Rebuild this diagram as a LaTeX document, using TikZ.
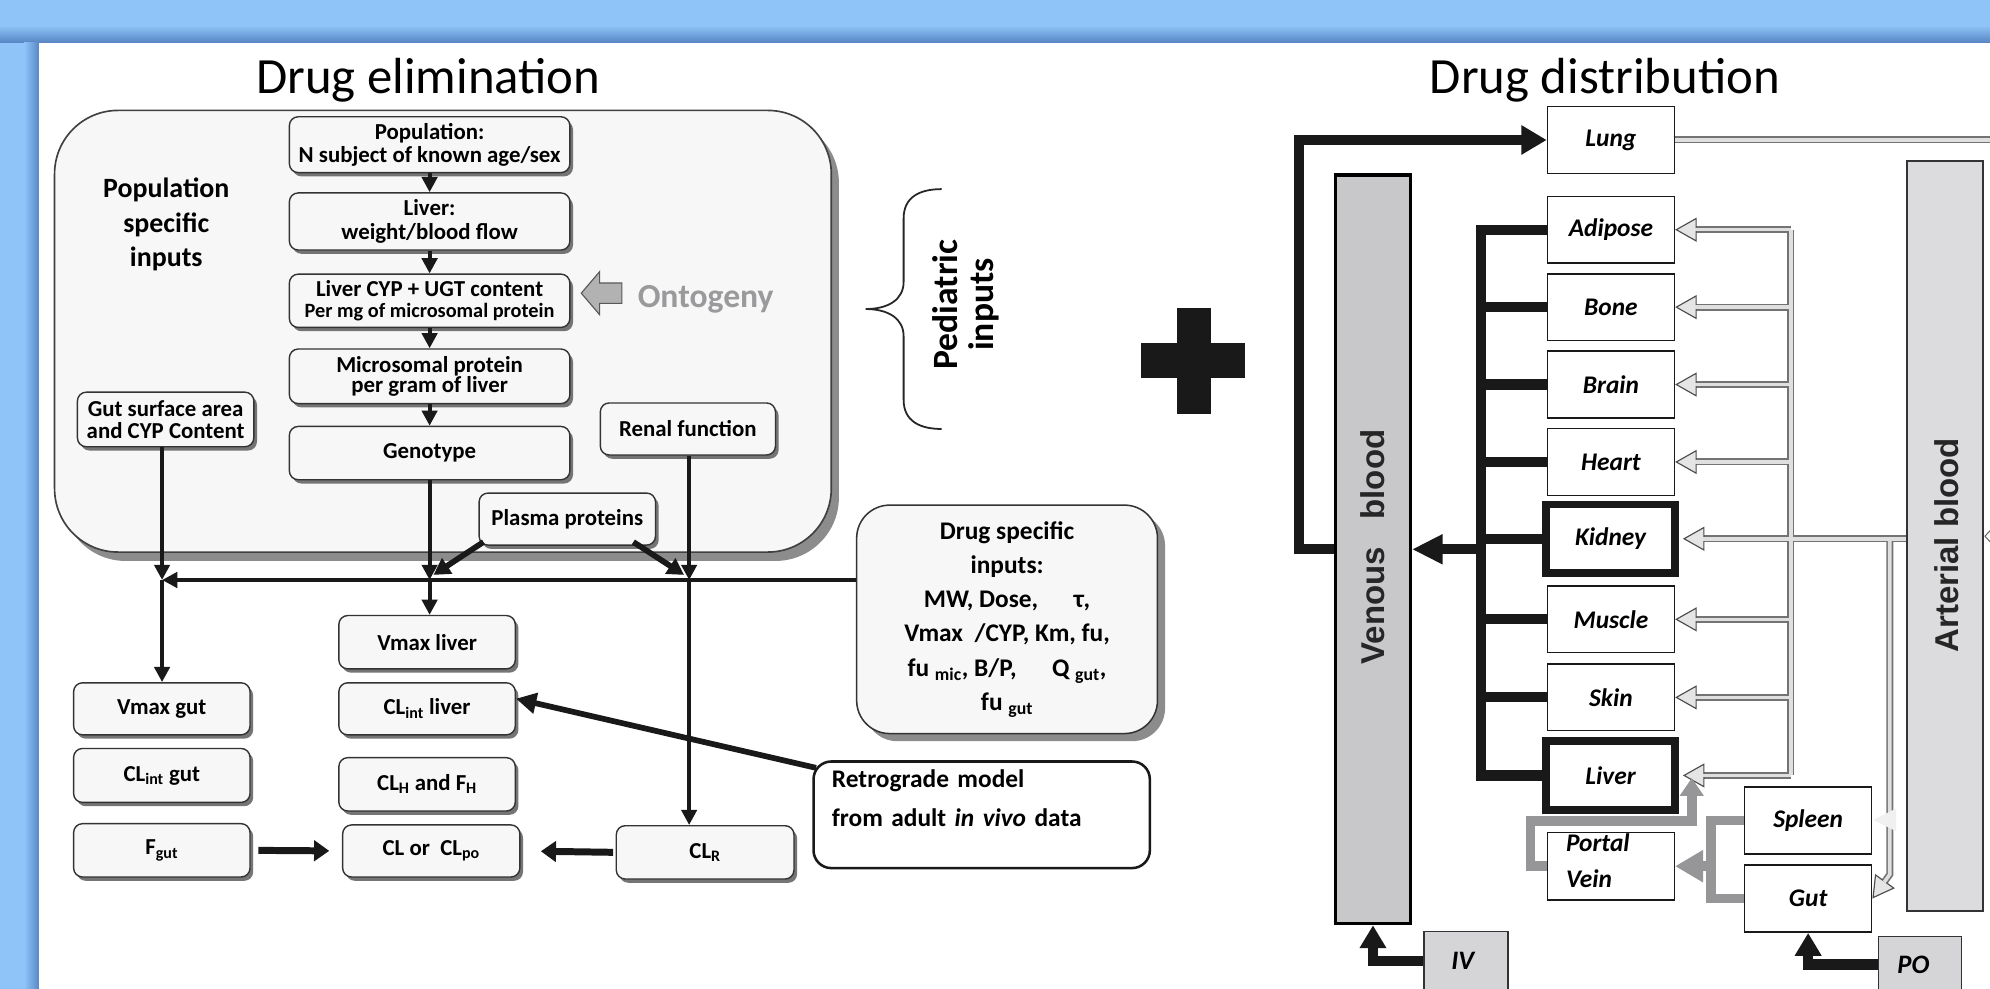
\documentclass[tikz,border=0pt]{standalone}
\usepackage{fontspec}
\setmainfont{Carlito}
\newfontfamily\arialf{Liberation Sans}
\usetikzlibrary{arrows.meta,shadows}
\definecolor{bluebg}{RGB}{142,196,248}
\definecolor{blueshade}{RGB}{88,134,196}
\definecolor{boxfill}{RGB}{247,247,247}
\definecolor{venfill}{RGB}{200,200,203}
\definecolor{artfill}{RGB}{220,220,222}
\definecolor{routefill}{RGB}{213,213,215}
\definecolor{portgray}{RGB}{150,150,152}
\definecolor{ontogray}{RGB}{154,154,156}
\tikzset{
 rbox/.style={draw=black!80, fill=boxfill, rounded corners=7pt, line width=1.1pt,
   drop shadow={shadow xshift=2.5pt, shadow yshift=-3pt, fill=black!60, opacity=0.9},
   font=\fontsize{18}{17}\selectfont\bfseries, align=center, inner sep=0pt},
 bigpanel/.style={draw=black!75, fill=boxfill, rounded corners=50pt, line width=1.3pt,
   drop shadow={shadow xshift=6pt, shadow yshift=-7pt, fill=black!45, opacity=1}, inner sep=0pt},
 dbox/.style={draw=black!80, fill=boxfill, rounded corners=26pt, line width=1.2pt,
   drop shadow={shadow xshift=6pt, shadow yshift=-6pt, fill=black!45, opacity=1}, inner sep=0pt, align=center},
 retrobox/.style={draw=black!90, fill=white, rounded corners=14pt, line width=2pt, inner sep=0pt},
 arr/.style={draw=black!90, line width=3.2pt, -{Triangle[length=12pt,width=12pt]}},
 parr/.style={draw=black!90, line width=4.5pt, -{Triangle[length=13pt,width=14pt]}},
 barr/.style={draw=black!90, line width=5.5pt, -{Triangle[length=12pt,width=16pt]}},
 rarr/.style={draw=black!90, line width=4.5pt, -{Triangle[length=16pt,width=16pt]}},
 hline/.style={draw=black!90, line width=3.8pt, -{Triangle[length=12pt,width=12pt]}},
 obox/.style={draw=black!90, fill=white, line width=1.2pt, minimum width=100pt, minimum height=52.5pt,
   inner sep=0pt, font=\fontsize{20}{22}\selectfont\bfseries\itshape},
 okbox/.style={obox, line width=6pt, minimum width=102pt, minimum height=54pt},
 routebox/.style={draw=black!80, line width=1.2pt, fill=routefill, inner sep=0pt},
 ven/.style={draw=black!90, line width=8pt},
 venarr/.style={ven, -{Triangle[length=20pt,width=22pt]}},
 venarrb/.style={ven, -{Triangle[length=24pt,width=22pt]}},
 venarrc/.style={ven, -{Triangle[length=18pt,width=20pt]}},
 artout/.style={draw=black!55, line width=5.5pt},
 artin/.style={draw=gray!25, line width=2.8pt},
 arttip/.style={-{Triangle[length=17pt,width=19pt,color=black!70,fill=gray!20,line width=0.9pt]}},
 portline/.style={draw=portgray, line width=7.5pt},
 portarr/.style={portline, -{Triangle[length=22pt,width=24pt]}},
 portarrb/.style={portline, -{Triangle[length=14pt,width=18pt]}},
 bloodlab/.style={rotate=90, font=\arialf\bfseries\fontsize{26}{28}\selectfont, text=black!85},
}
\begin{document}
\begin{tikzpicture}[x=1pt,y=-1pt]
\useasboundingbox (0,0) rectangle (1568,779);
% background
\fill[bluebg] (0,0) rectangle (1568,779);
\shade[top color=bluebg, bottom color=blueshade] (0,20) rectangle (1568,33.5);
\shade[left color=bluebg, right color=blueshade] (19,33.5) rectangle (31,779);
\fill[white] (31,33.5) rectangle (1568,779);

% titles
\node[font=\fontsize{40}{44}\selectfont] (t1) at (337.5,63) {Drug elimination};
\node[font=\fontsize{40}{44}\selectfont] (t2) at (1264.5,63) {Drug distribution};

% ===== left part =====
\node[bigpanel, minimum width=612pt, minimum height=348pt] (panel) at (349,261) {};
\node[font=\fontsize{22}{27}\selectfont\bfseries, align=center] (poplab) at (131,177) {Population\\specific\\inputs};

\node[rbox, minimum width=221pt, minimum height=44pt, font=\fontsize{18}{18.5}\selectfont\bfseries] (pop) at (338.5,114) {Population:\\N subject of known age/sex};
\node[rbox, minimum width=221pt, minimum height=45pt, font=\fontsize{18}{18.5}\selectfont\bfseries] (liv) at (338.5,174.5) {Liver:\\weight/blood flow};
\node[rbox, minimum width=221pt, minimum height=42pt, font=\fontsize{18}{16}\selectfont\bfseries] (cyp) at (338.5,237) {Liver CYP + UGT content\\{\fontsize{16}{16}\selectfont Per mg of microsomal protein}};
\node[rbox, minimum width=221pt, minimum height=43pt, font=\fontsize{18}{15.5}\selectfont\bfseries] (mic) at (338.5,296.5) {Microsomal protein\\per gram of liver};
\node[rbox, minimum width=221pt, minimum height=42pt] (geno) at (338.5,357) {Genotype};

\node[rbox, minimum width=139pt, minimum height=43pt, font=\fontsize{18}{17.5}\selectfont\bfseries] (gutsa) at (130.5,330.5) {Gut surface area\\and CYP Content};
\node[rbox, minimum width=138pt, minimum height=41pt] (renal) at (542,338) {Renal function};
\node[rbox, minimum width=139pt, minimum height=41pt] (plasma) at (447,409) {Plasma proteins};

% ontogeny
\filldraw[fill=gray!60, draw=black!65, line width=0.9pt] (458,231) -- (472.5,214) -- (472.5,223) -- (490,223) -- (490,239) -- (472.5,239) -- (472.5,248) -- cycle;
\node[font=\fontsize{26.5}{28}\selectfont\bfseries, text=ontogray] (onto) at (556,236) {Ontogeny};

% lower boxes
\node[rbox, minimum width=139pt, minimum height=42pt] (vmaxl) at (336.5,506) {Vmax liver};
\node[rbox, minimum width=139pt, minimum height=41pt] (clintl) at (336.5,558.5) {CL\textsubscript{int} liver};
\node[rbox, minimum width=139pt, minimum height=42pt] (clh) at (336.5,618) {CL\textsubscript{H} and F\textsubscript{H}};
\node[rbox, minimum width=139.6pt, minimum height=41pt] (cl) at (339.8,670.5) {CL or\ \ CL\textsubscript{po}};
\node[rbox, minimum width=139pt, minimum height=41pt] (vmaxg) at (127.5,558.5) {Vmax gut};
\node[rbox, minimum width=139pt, minimum height=42.5pt] (clintg) at (127.5,611) {CL\textsubscript{int} gut};
\node[rbox, minimum width=139pt, minimum height=42pt] (fgut) at (127.5,670) {F\textsubscript{gut}};
\node[rbox, minimum width=140pt, minimum height=42pt] (clr) at (555.6,671.6) {CL\textsubscript{R}};

% drug specific inputs
\node[dbox, minimum width=237pt, minimum height=180pt, font=\fontsize{20}{27}\selectfont\bfseries] (drug) at (793.5,488) {Drug specific\\inputs:\\MW, Dose,\hspace{28pt}τ,\\Vmax\ \ /CYP, Km, fu,\\fu \textsubscript{mic}, B/P,\hspace{28pt}Q \textsubscript{gut},\\fu \textsubscript{gut}};

% retrograde
\node[retrobox, minimum width=265pt, minimum height=84pt] (retro) at (773.5,642) {};
\node[font=\fontsize{20}{30.5}\selectfont\bfseries, text width=236pt, align=left] (retrotext) at (773.5,629) {Retrograde model\\from adult \textit{in vivo} data};

% chain arrows
\draw[arr] (pop) -- (liv);
\draw[arr] (liv) -- (cyp);
\draw[arr] (cyp) -- (mic);
\draw[arr] (mic) -- (geno);

\coordinate (jg) at (127.7,457);
\coordinate (jl) at (338.5,457);
\coordinate (jr) at (543,457);
\draw[hline] (drug.west |- jg) -- (jg);
\draw[arr] (gutsa.south -| jg) -- (jg);
\draw[arr] (jg) -- (vmaxg.north -| jg);
\draw[arr] (geno.south) -- (jl);
\draw[arr] (jl) -- (vmaxl.north -| jl);
\draw[arr] (renal.south -| jr) -- (jr);
\draw[arr] (jr) -- (clr.north -| jr);
\draw[parr] ([xshift=4pt,yshift=3pt]plasma.south west) -- ([xshift=3pt,yshift=4pt]jl);
\draw[parr] ([xshift=-18pt,yshift=3pt]plasma.south east) -- ([xshift=-4pt,yshift=4pt]jr);
\draw[barr, shorten <=6pt, shorten >=10pt] (fgut.east) -- (cl.west);
\draw[barr, shorten <=2pt, shorten >=16pt] (clr.west) -- (cl.east);
\draw[rarr] ([xshift=3pt,yshift=-6pt]retro.north west) -- ([yshift=8pt]clintl.east);

% brace and pediatric inputs
\draw[line width=1.4pt, black!85] (742,149) .. controls (725,149) and (712,155) .. (712,172) -- (712,222) .. controls (712,236) and (700,243.5) .. (682,243.5) .. controls (700,243.5) and (712,251) .. (712,265) -- (712,315) .. controls (712,332) and (725,338) .. (742,338);
\node[rotate=90, font=\fontsize{28}{29}\selectfont\bfseries, align=center] (ped) at (761,240) {Pediatric\\inputs};

% plus sign
\fill[black!90] (899,270) rectangle (981,298);
\fill[black!90] (927,243) rectangle (954,326);

% ===== right part =====
\node[draw=black, line width=2.6pt, fill=venfill, minimum width=59pt, minimum height=590pt, inner sep=0pt] (venous) at (1081.8,432.8) {};
\node[bloodlab] (venlab) at (1081.8,431) {Venous\ \ \ blood};
\node[draw=black!80, line width=1.4pt, fill=artfill, minimum width=60pt, minimum height=591pt, inner sep=0pt] (art) at (1532.3,422.5) {};
\node[bloodlab] (artlab) at (1534,429.6) {Arterial blood};

\node[obox] (lung) at (1269.3,110.3) {Lung};
\node[obox] (adipose) at (1269.3,181) {Adipose};
\node[obox] (bone) at (1269.3,242) {Bone};
\node[obox] (brain) at (1269.3,303) {Brain};
\node[obox] (heart) at (1269.3,364) {Heart};
\node[okbox] (kidney) at (1269,424.5) {Kidney};
\node[obox] (muscle) at (1269.3,488) {Muscle};
\node[obox] (skin) at (1269.3,549.5) {Skin};
\node[okbox] (liver) at (1269,611) {Liver};
\node[obox, minimum height=53pt] (portal) at (1269.3,682.5) {};
\node[font=\fontsize{20}{28}\selectfont\bfseries\itshape, align=left] (portaltext) at (1259,678) {Portal\\Vein};
\node[obox, minimum height=53pt] (spleen) at (1424.7,646.5) {Spleen};
\node[obox, minimum height=53pt] (gut) at (1424.7,708) {Gut};

\node[routebox, minimum width=66pt, minimum height=60pt] (iv) at (1155,764) {};
\node[font=\fontsize{21}{22}\selectfont\bfseries\itshape] (ivt) at (1152.5,757) {IV};
\node[routebox, minimum width=65.6pt, minimum height=60pt] (po) at (1512.8,768) {};
\node[font=\fontsize{21}{22}\selectfont\bfseries\itshape] (pot) at (1507.6,760) {PO};

% venous side connectors
\coordinate (lungturn) at (1023.6,110.3);
\draw[venarr] (venous.west) -| (lungturn) -- (lung.west);
\coordinate (colx) at (1167,0);
\draw[ven] (adipose.west) -| (colx |- liver.west) -- (liver.west);
\foreach \o in {bone,brain,heart,kidney,muscle,skin} \draw[ven] (colx |- \o.west) -- (\o.west);
\draw[venarrb] (colx |- venous.east) -- (venous.east);
\draw[venarrc] (iv.west |- ivt) -| (venous.south);
\draw[venarrc] (po.west |- pot) -| (gut.south);

% arterial side connectors
\coordinate (artx) at (1411,0);
\coordinate (gutx) at (1489,0);
\coordinate (gutbend) at (1489,689);
\coordinate (lungout) at (1575,110.3);
\draw[artout] (artx |- adipose.east) -- (artx |- liver.east);
\foreach \o in {adipose,bone,brain,heart,muscle,skin} \draw[artout, arttip] (artx |- \o.east) -- (\o.east);
\draw[artout, arttip] (artx |- liver.east) -- ([xshift=3pt]liver.east);
\draw[artout, arttip] (art.west |- kidney.east) -- ([xshift=3pt]kidney.east);
\draw[artout, arttip] (gutx |- kidney.east) -- (gutbend) -- (gut.east);
\draw[artout] (lung.east) -- (lungout);
\draw[artin] (artx |- adipose.east) -- (artx |- liver.east);
\foreach \o in {adipose,bone,brain,heart,muscle,skin} \draw[artin, shorten >=16pt] (artx |- \o.east) -- (\o.east);
\draw[artin, shorten >=19pt] (artx |- liver.east) -- (liver.east);
\draw[artin, shorten >=19pt] (art.west |- kidney.east) -- (kidney.east);
\draw[artin, shorten >=16pt] (gutx |- kidney.east) -- (gutbend) -- (gut.east);
\draw[artin] (lung.east) -- (lungout);
\fill[gray!12] (1476,646) -- (1494,637) -- (1494,655) -- cycle;
\draw[black!60, line width=0.8pt] (1570,416) -- (1564,422.5) -- (1570,429);

% portal system
\coordinate (pj) at (1348,682.5);
\draw[portline] (spleen.west) -| (pj) |- (gut.west);
\draw[portarr] (pj) -- (portal.east);
\coordinate (pvl) at (1206,0);
\coordinate (pvtop) at (1333,647);
\coordinate (livin) at (1333,613);
\draw[portarrb] (portal.west) -| (pvl |- pvtop) -- (pvtop) -- (livin);
\end{tikzpicture}
\end{document}
